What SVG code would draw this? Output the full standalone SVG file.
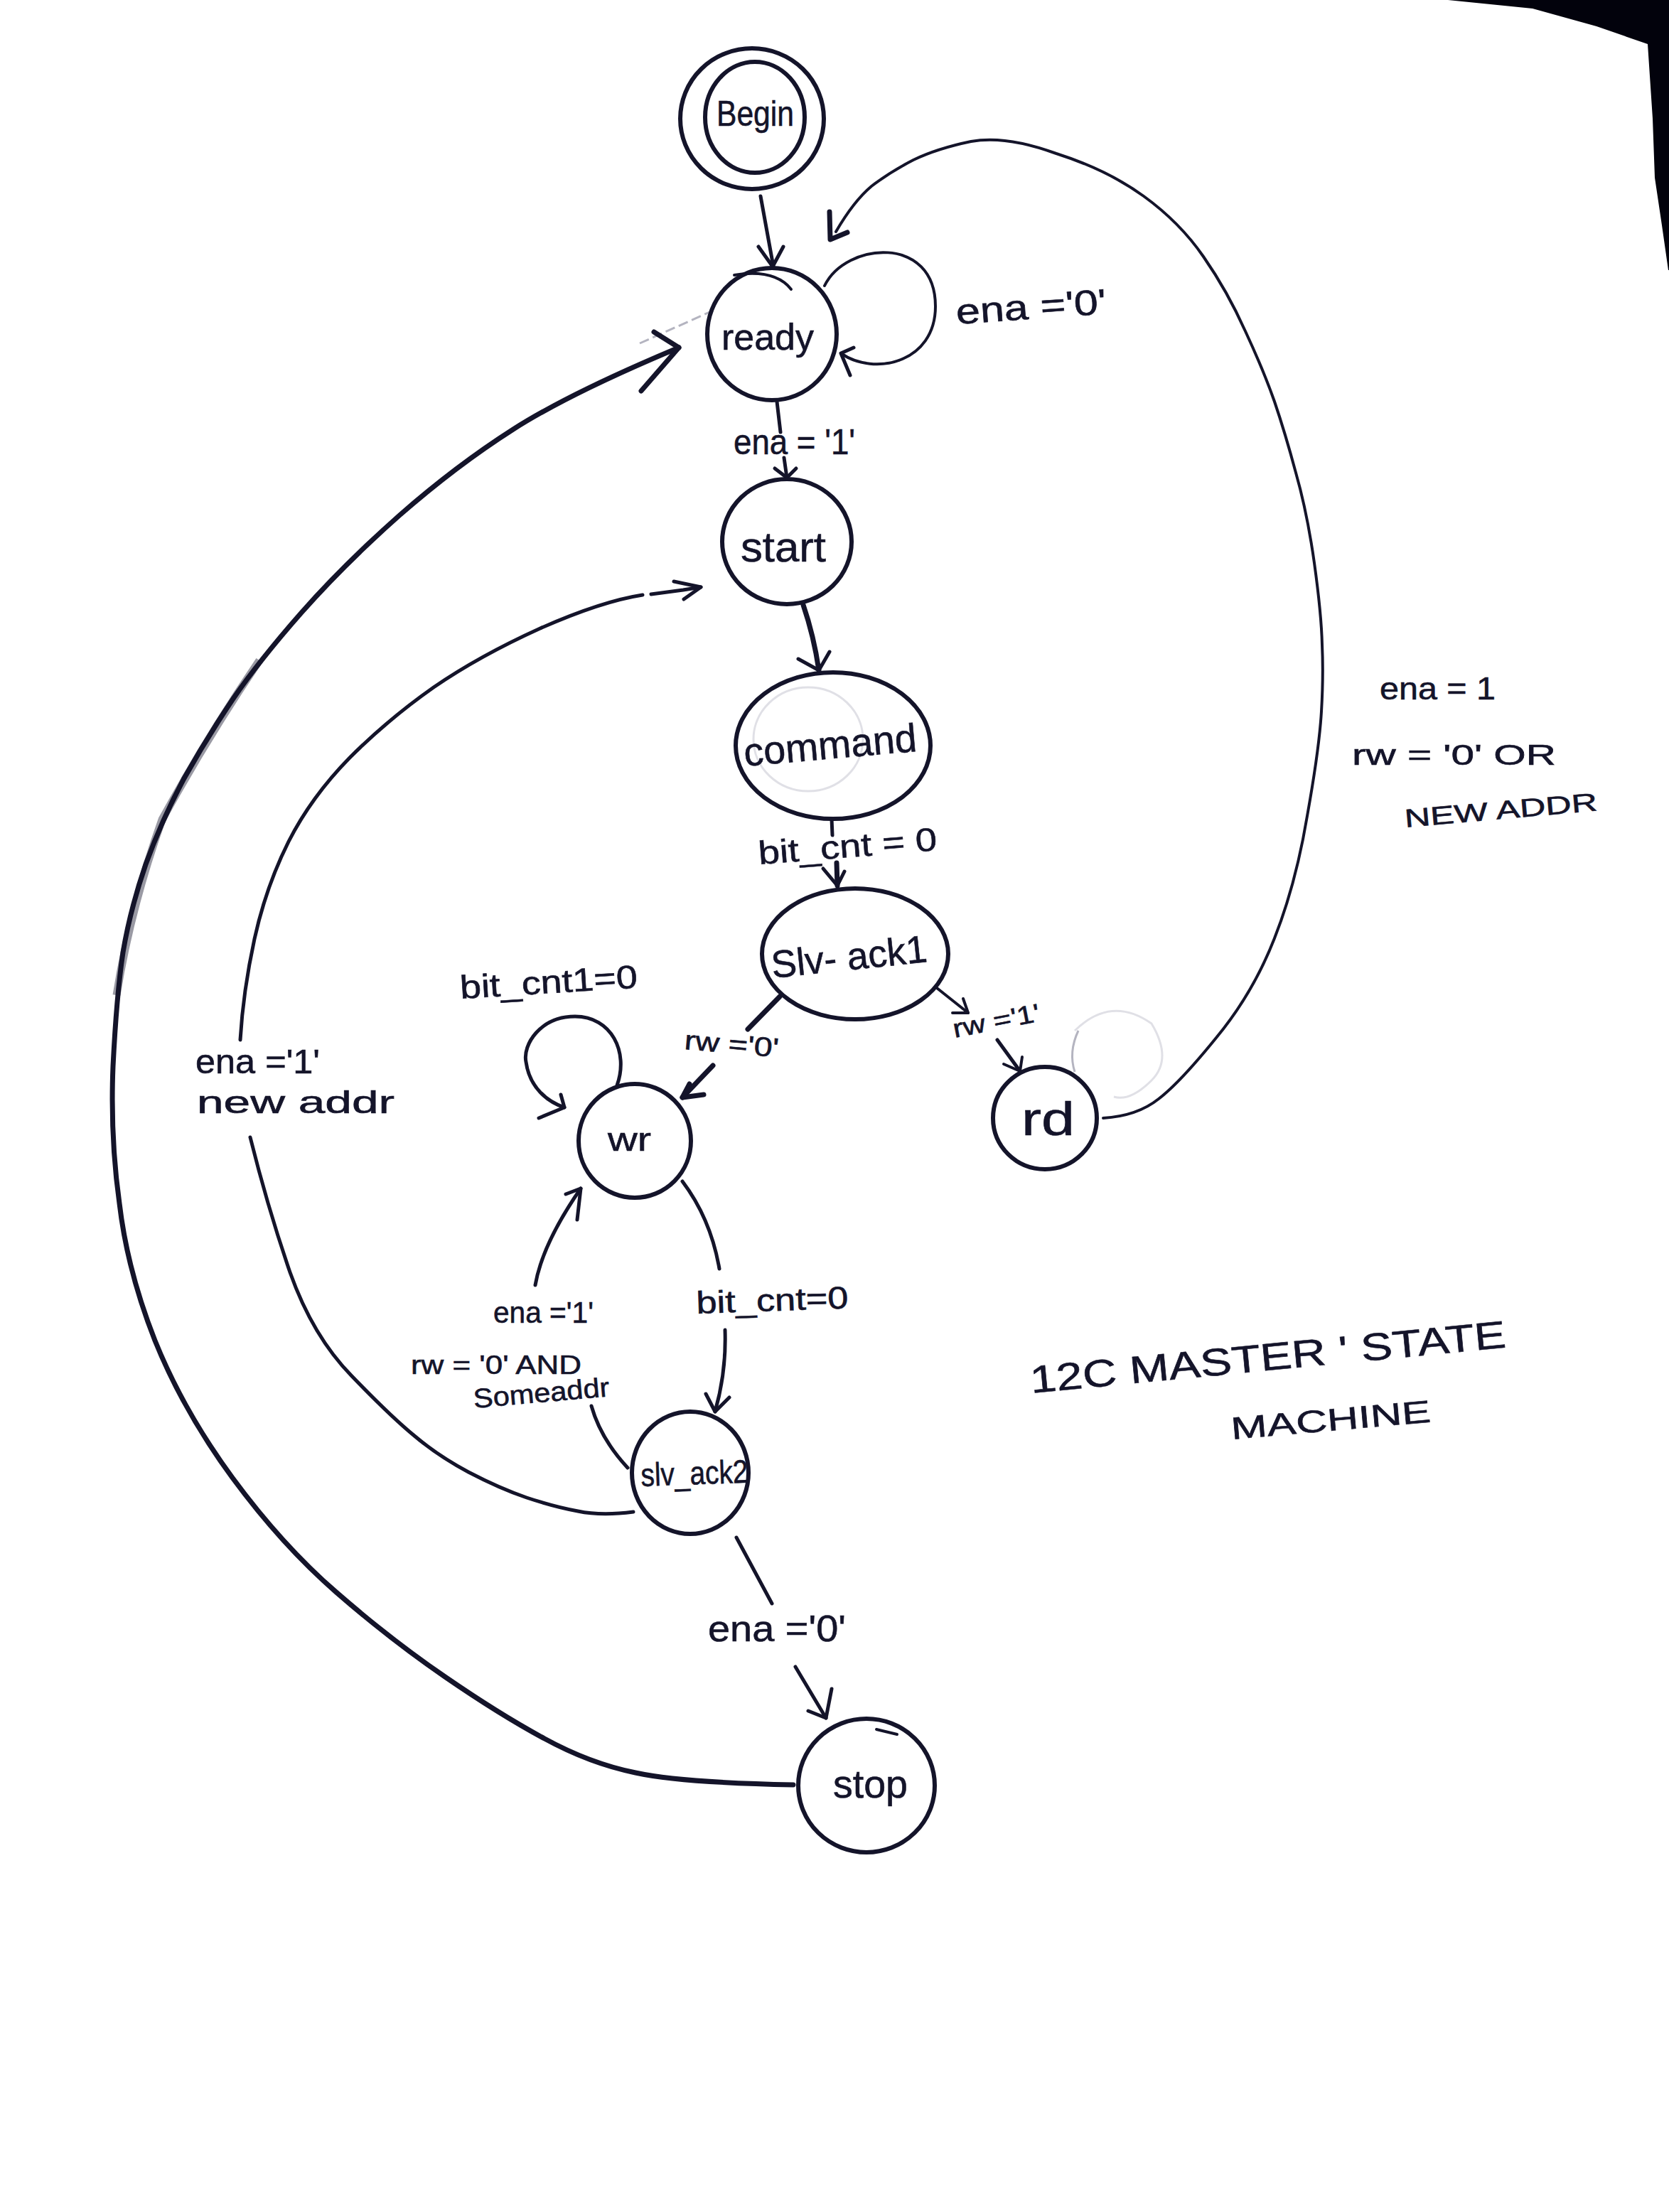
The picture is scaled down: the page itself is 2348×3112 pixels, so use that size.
<svg xmlns="http://www.w3.org/2000/svg" width="2348" height="3112" viewBox="0 0 2348 3112">
<style>
.n{fill:none;stroke:#14142a;stroke-width:6}
.c{fill:none;stroke:#14142a;stroke-width:5;stroke-linecap:round;stroke-linejoin:round}
.t{stroke-width:4}
.b{stroke-width:7}
.g{fill:none;stroke:#b4b4c0;stroke-width:3}
.p{fill:none;stroke:#e0e0e6;stroke-width:3}
text{font-family:"Liberation Sans",Arial,sans-serif;fill:#14142a;stroke:#14142a;stroke-width:.6}
</style>
<rect width="2348" height="3112" fill="#fff"/>
<path d="M2037 0L2156 12L2246 37L2318 62L2325 167L2328 250L2338 317L2347 380L2348 380L2348 0Z" fill="#02020c"/>
<g id="connectors">
<path class="g" d="M900 483L1003 437" stroke-dasharray="14 6"/>
<path class="p" d="M1512 1450Q1563 1400 1620 1440Q1650 1490 1620 1520Q1590 1550 1567 1543"/>
<path class="g" d="M1512 1508Q1503 1480 1517 1450"/>
<path class="c" d="M1070 276L1088 375"/><path class="c" d="M1067 347L1087 375L1102 347"/>
<path class="c t" d="M1160 402C1190 340 1316 330 1316 431C1316 510 1230 530 1183 497"/><path class="c" d="M1201 489L1183 497L1196 528"/>
<path class="c t" d="M1552 1573Q1600 1570 1630 1546Q1660 1523 1711 1460Q1763 1397 1793 1320Q1823 1244 1839 1148Q1856 1053 1859 1001Q1862 950 1860 907Q1859 864 1849 792Q1839 721 1823 665Q1808 609 1793 565Q1778 522 1752 466Q1727 410 1693 361Q1660 313 1609 276Q1558 239 1486 216Q1415 190 1366 199Q1318 209 1285 225Q1252 242 1226 262Q1201 283 1176 326"/>
<path class="c b" d="M1167 298L1168 337L1192 327"/>
<path class="g" style="stroke-width:11;stroke:#9a9aa4" d="M164 1400Q183 1280 228 1153Q291 1038 365 929"/>
<path class="c b" d="M1116 2511Q958 2508 894 2494Q830 2481 766 2446Q703 2412 626 2359Q550 2307 473 2240Q397 2174 327 2079Q258 1985 218 1886Q179 1787 168 1693Q155 1600 159 1500Q164 1400 173 1340Q183 1280 205 1216Q228 1153 259 1095Q291 1038 328 983Q365 929 424 862Q483 795 562 725Q642 655 722 604Q802 553 955 489"/>
<path class="c b" d="M920 467L955 489L902 550"/>
<path class="c" d="M891 2127Q846 2133 813 2126Q780 2120 741 2107Q703 2094 659 2071Q616 2048 583 2020Q550 1993 495 1936Q440 1880 408 1790Q377 1700 352 1600"/>
<path class="c" d="M338 1463Q342 1395 358 1321Q374 1248 406 1184Q438 1121 492 1066Q546 1012 610 967Q674 923 760 884Q846 846 904 837"/>
<path class="c" d="M916 836L961 830L986 826"/><path class="c" d="M948 818L986 826L962 843"/>
<path class="c" d="M1093 565L1098 608"/><path class="c" d="M1103 644L1107 672"/><path class="c" d="M1090 659L1107 672L1120 659"/>
<path class="c b" d="M1130 851Q1145 895 1152 943"/><path class="c" d="M1123 927L1152 943L1167 917"/>
<path class="c" d="M1170 1152L1171 1175"/><path class="c b" d="M1177 1214L1178 1246"/><path class="c" d="M1158 1222L1178 1246L1188 1226"/>
<path class="c b" d="M1097 1402L1052 1448"/><path class="c b" d="M1003 1499L960 1544"/><path class="c b" d="M970 1525L960 1544L990 1540"/>
<path class="c" d="M868 1527C885 1480 860 1430 809 1430C760 1430 735 1470 740 1494C745 1530 770 1550 794 1558"/><path class="c" d="M789 1540L794 1558L758 1573"/>
<path class="c" d="M960 1662Q1000 1715 1012 1785"/><path class="c" d="M1020 1871Q1022 1930 1006 1986"/><path class="c" d="M993 1961L1006 1986L1026 1966"/>
<path class="c" d="M883 2065Q845 2024 832 1978"/><path class="c" d="M753 1808Q763 1750 817 1672"/><path class="c" d="M796 1680L817 1672L812 1716"/>
<path class="c" d="M1036 2163L1086 2256"/><path class="c" d="M1119 2345L1162 2417"/><path class="c" d="M1137 2407L1162 2417L1170 2376"/>
<path class="c t" d="M1318 1390L1362 1425"/><path class="c t" d="M1340 1425L1362 1425L1355 1405"/>
<path class="c" d="M1403 1463L1435 1507"/><path class="c t" d="M1412 1497L1435 1507L1438 1487"/>
</g>
<g id="begin"><ellipse class="n" cx="1058" cy="167" rx="101" ry="99"/><ellipse class="n" cx="1062" cy="165" rx="70" ry="78"/><text x="1008" y="177" font-size="50" textLength="109" lengthAdjust="spacingAndGlyphs">Begin</text></g>
<g id="ready"><ellipse class="n" cx="1086" cy="470" rx="91" ry="93"/><path class="c t" d="M1033 387Q1090 378 1113 407"/><text x="1015" y="492" font-size="52" textLength="130" lengthAdjust="spacingAndGlyphs">ready</text></g>
<g id="start"><ellipse class="n" cx="1107" cy="762" rx="91" ry="88"/><text x="1042" y="790" font-size="60" textLength="120" lengthAdjust="spacingAndGlyphs">start</text></g>
<g id="command"><ellipse class="n" cx="1172" cy="1049" rx="137" ry="103"/><ellipse class="p" cx="1137" cy="1040" rx="77" ry="73"/><text transform="rotate(-5 1048 1078)" x="1048" y="1078" font-size="56" textLength="244" lengthAdjust="spacingAndGlyphs">command</text></g>
<g id="slv-ack1"><ellipse class="n" cx="1203" cy="1342" rx="131" ry="92"/><text transform="rotate(-6 1087 1376)" x="1087" y="1376" font-size="54" textLength="220" lengthAdjust="spacingAndGlyphs">Slv- ack1</text></g>
<g id="wr"><ellipse class="n" cx="893" cy="1605" rx="79" ry="80"/><text x="855" y="1619" font-size="46" textLength="61" lengthAdjust="spacingAndGlyphs">wr</text></g>
<g id="rd"><ellipse class="n" cx="1470" cy="1573" rx="73" ry="72"/><text x="1437" y="1597" font-size="66" textLength="75" lengthAdjust="spacingAndGlyphs">rd</text></g>
<g id="slv_ack2"><ellipse class="n" cx="971" cy="2072" rx="82" ry="86"/><text transform="rotate(-2 902 2091)" x="902" y="2091" font-size="46" textLength="151" lengthAdjust="spacingAndGlyphs">slv_ack2</text></g>
<g id="stop"><ellipse class="n" cx="1219" cy="2512" rx="96" ry="94"/><path class="c t" d="M1233 2433L1262 2440"/><text x="1172" y="2529" font-size="56" textLength="105" lengthAdjust="spacingAndGlyphs">stop</text></g>
<g id="labels">
<text transform="rotate(-4 1346 456)" x="1346" y="456" font-size="50" textLength="212" lengthAdjust="spacingAndGlyphs">ena ='0'</text>
<text x="1032" y="639" font-size="50" textLength="171" lengthAdjust="spacingAndGlyphs">ena = '1'</text>
<text transform="rotate(-4.5 1068 1216)" x="1068" y="1216" font-size="46" textLength="252" lengthAdjust="spacingAndGlyphs">bit_cnt = 0</text>
<text x="1941" y="984" font-size="44" textLength="163" lengthAdjust="spacingAndGlyphs">ena = 1</text>
<text x="1902" y="1076" font-size="40" textLength="287" lengthAdjust="spacingAndGlyphs">rw = '0' OR</text>
<text transform="rotate(-5 1977 1164)" x="1977" y="1164" font-size="36" textLength="272" lengthAdjust="spacingAndGlyphs">NEW ADDR</text>
<text transform="rotate(-3.5 648 1405)" x="648" y="1405" font-size="46" textLength="250" lengthAdjust="spacingAndGlyphs">bit_cnt1=0</text>
<text transform="rotate(5 962 1476)" x="962" y="1476" font-size="38" textLength="133" lengthAdjust="spacingAndGlyphs">rw ='0'</text>
<text transform="rotate(-11 1343 1460)" x="1343" y="1460" font-size="36" textLength="124" lengthAdjust="spacingAndGlyphs">rw ='1'</text>
<text x="694" y="1861" font-size="42" textLength="141" lengthAdjust="spacingAndGlyphs">ena ='1'</text>
<text transform="rotate(-2 980 1848)" x="980" y="1848" font-size="44" textLength="214" lengthAdjust="spacingAndGlyphs">bit_cnt=0</text>
<text x="578" y="1933" font-size="36" textLength="240" lengthAdjust="spacingAndGlyphs">rw = '0' AND</text>
<text transform="rotate(-5 667 1981)" x="667" y="1981" font-size="38" textLength="192" lengthAdjust="spacingAndGlyphs">Someaddr</text>
<text x="996" y="2309" font-size="52" textLength="194" lengthAdjust="spacingAndGlyphs">ena ='0'</text>
<text x="275" y="1510" font-size="48" textLength="175" lengthAdjust="spacingAndGlyphs">ena ='1'</text>
<text x="277" y="1566" font-size="44" textLength="278" lengthAdjust="spacingAndGlyphs">new addr</text>
<text transform="rotate(-5.5 1451 1960)" x="1451" y="1960" font-size="54" textLength="672" lengthAdjust="spacingAndGlyphs">12C MASTER ' STATE</text>
<text transform="rotate(-5 1733 2025)" x="1733" y="2025" font-size="44" textLength="282" lengthAdjust="spacingAndGlyphs">MACHINE</text>
</g>
</svg>
